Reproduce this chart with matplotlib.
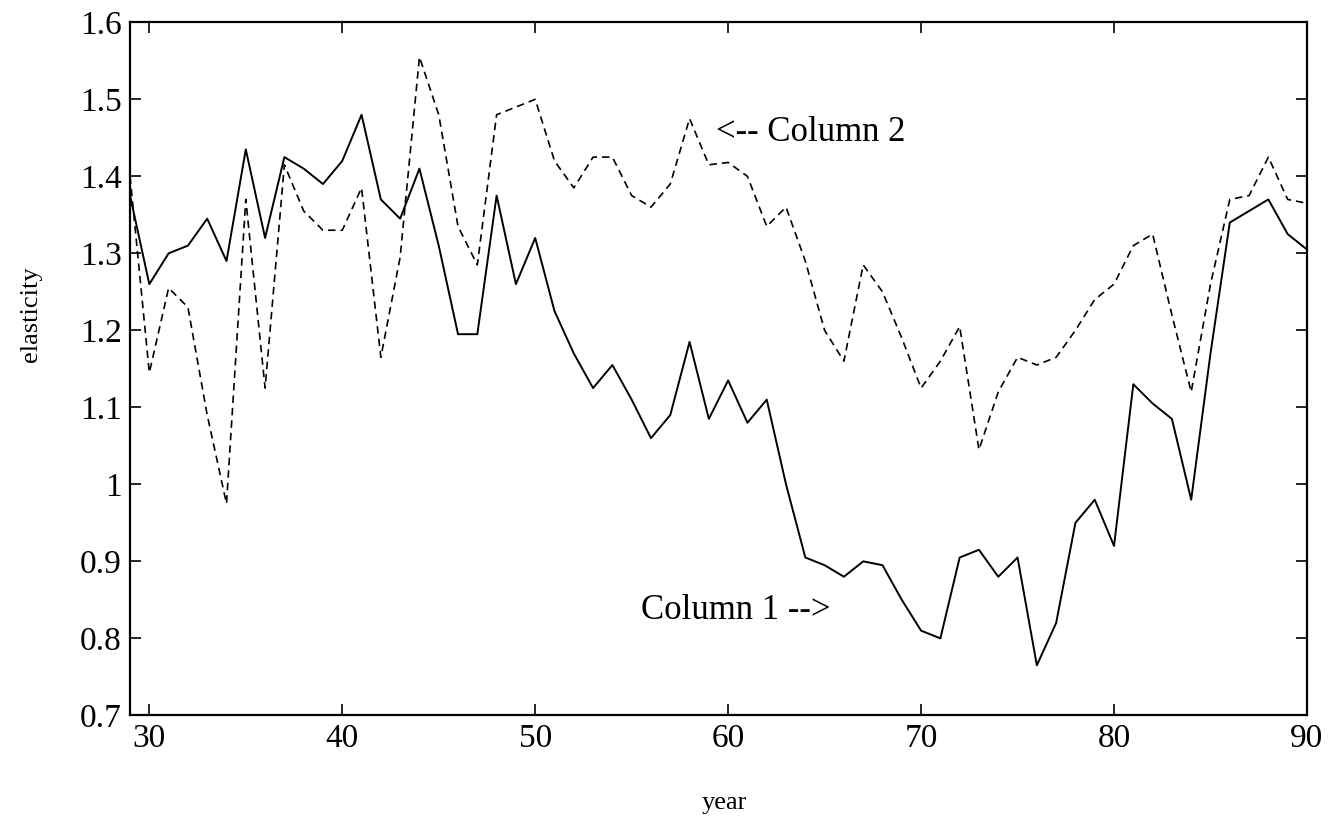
import matplotlib
matplotlib.use('Agg')
import matplotlib.pyplot as plt

# year axis, 1929..1990 shown as 29..90
years = list(range(29, 91))

# Column 1 (solid)
col1 = [1.375, 1.26, 1.30, 1.31, 1.345, 1.29, 1.435, 1.32, 1.425, 1.41,
        1.39, 1.42, 1.48, 1.37, 1.345, 1.41, 1.31, 1.195, 1.195, 1.375,
        1.26, 1.32, 1.225, 1.17, 1.125, 1.155, 1.11, 1.06, 1.09, 1.185,
        1.085, 1.135, 1.08, 1.11, 1.00, 0.905, 0.895, 0.88, 0.90, 0.895,
        0.85, 0.81, 0.80, 0.905, 0.915, 0.88, 0.905, 0.765, 0.82, 0.95,
        0.98, 0.92, 1.13, 1.105, 1.085, 0.98, 1.17, 1.34, 1.355, 1.37,
        1.325, 1.305]

# Column 2 (dashed)
col2 = [1.40, 1.145, 1.255, 1.23, 1.09, 0.975, 1.37, 1.125, 1.415, 1.355,
        1.33, 1.33, 1.385, 1.165, 1.295, 1.555, 1.48, 1.335, 1.285, 1.48,
        1.49, 1.50, 1.42, 1.385, 1.425, 1.425, 1.375, 1.36, 1.39, 1.475,
        1.415, 1.418, 1.40, 1.335, 1.36, 1.29, 1.20, 1.16, 1.285, 1.25,
        1.19, 1.125, 1.16, 1.205, 1.045, 1.12, 1.165, 1.155, 1.165, 1.20,
        1.24, 1.26, 1.31, 1.325, 1.22, 1.12, 1.26, 1.37, 1.375, 1.425,
        1.37, 1.365]

xticks = [30, 40, 50, 60, 70, 80, 90]
yticks = [0.7, 0.8, 0.9, 1.0, 1.1, 1.2, 1.3, 1.4, 1.5, 1.6]
ytick_labels = ['0.7', '0.8', '0.9', '1', '1.1', '1.2', '1.3', '1.4', '1.5', '1.6']

plt.rcParams['font.family'] = ['Liberation Serif', 'DejaVu Serif']

fig = plt.figure(figsize=(13.35, 8.27), dpi=100)
ax = fig.add_axes([0.0974, 0.135, 0.8816, 0.838])

ax.plot(years, col1, color='black', linewidth=1.4)
ax.plot(years, col2, color='black', linewidth=1.2, linestyle=(0, (4.5, 3)))

ax.set_xlim(29, 90)
ax.set_ylim(0.7, 1.6)
ax.set_xticks(xticks)
ax.set_yticks(yticks)
ax.set_yticklabels(ytick_labels)
ax.tick_params(direction='in', length=8, width=1.2, top=True, right=True,
               labelsize=24, pad=6)
for s in ax.spines.values():
    s.set_linewidth(1.6)

ax.set_xlabel('year', fontsize=19)
ax.set_ylabel('elasticity', fontsize=19)
ax.xaxis.set_label_coords(0.505, -0.11)
ax.yaxis.set_label_coords(-0.075, 0.579)

ax.text(59.35, 1.457, '<-- Column 2', fontsize=25, va='center', ha='left')
ax.text(55.5, 0.836, 'Column 1 -->', fontsize=25, va='center', ha='left')

fig.savefig('out.png', dpi=100)
